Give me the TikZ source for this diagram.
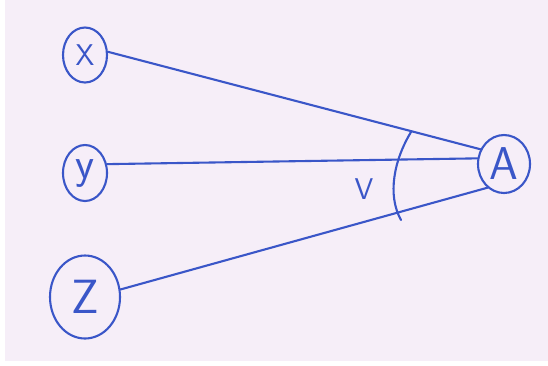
\documentclass[tikz,border=0pt]{standalone}
\usetikzlibrary{shapes.geometric}
\definecolor{paper}{RGB}{246,238,248}
\definecolor{ink}{RGB}{58,86,200}
\begin{document}
\begin{tikzpicture}[x=1pt,y=-1pt,
  ink line/.style={draw=ink,line width=2.1pt,line cap=round,line join=round},
  ball/.style={ellipse,ink line,inner sep=0pt,text=ink},
  big/.style={font=\fontsize{#1}{#1}\selectfont\sffamily},
  lbl/.style={text=ink,font=\fontsize{30}{30}\selectfont\sffamily}]
\useasboundingbox (0,0) rectangle (548,365);
\fill[white] (0,0) rectangle (548,365);
\fill[paper] (5,0) rectangle (548,361);
\node[ball,big=30,minimum width=44pt,minimum height=55pt] (X) at (85,55) {X};
\node[ball,big=44,minimum width=44pt,minimum height=56pt] (Y) at (85,173) {y};
\node[ball,big=48,minimum width=70pt,minimum height=83pt] (Z) at (85,297) {Z};
\node[ball,big=46,minimum width=52pt,minimum height=58pt] (A) at (504,164) {A};
\draw[ink line] (X.8) -- (A.148);
\draw[ink line] (Y.22) -- (A.168);
\draw[ink line] (Z.12) -- (A.235);
\coordinate (arcT) at (411,132);
\coordinate (arcB) at (401,220);
\draw[ink line] (arcT) .. controls (394,160) and (387,195) .. (arcB);
\node[lbl] (V) at (364,189) {V};
\end{tikzpicture}
\end{document}
